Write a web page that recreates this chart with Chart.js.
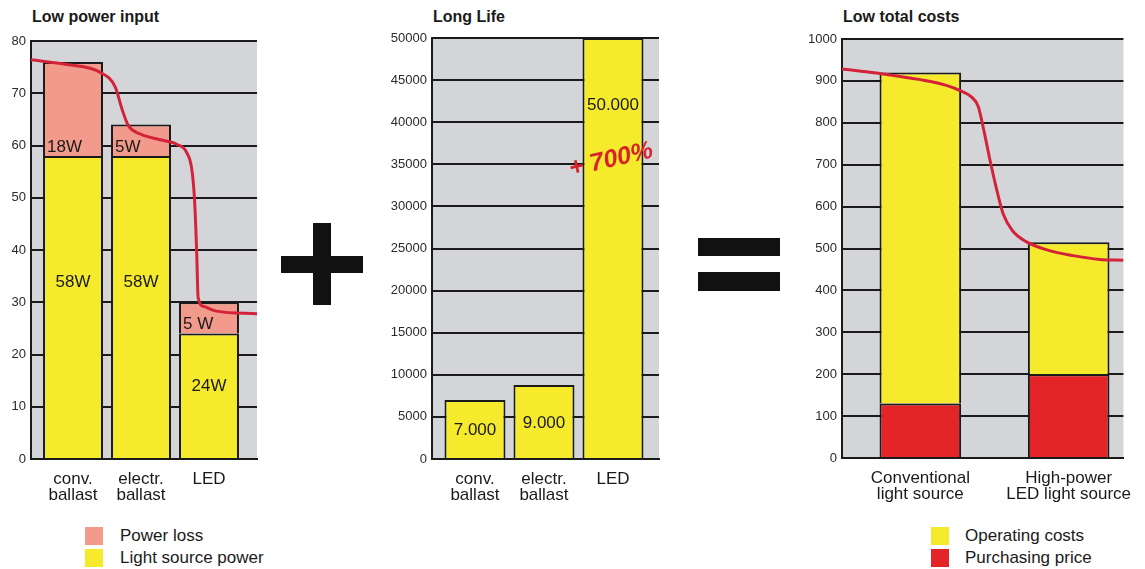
<!DOCTYPE html>
<html>
<head>
<meta charset="utf-8">
<script src="https://cdn.jsdelivr.net/npm/chart.js@4.4.1/dist/chart.umd.min.js"></script>
<style>
  body { margin: 0; background: #fff; width: 1145px; height: 569px; overflow: hidden; position: relative;
         font-family: "Liberation Sans", Arial, sans-serif; color: #1a1a1a; }
  canvas { position: absolute; }
  .title { position: absolute; font-weight: bold; font-size: 16px; line-height: 18px; }
  .sign { position: absolute; background: #111; }
  .legend { position: absolute; font-size: 17px; line-height: 22px; }
  .legend div { position: relative; height: 22px; white-space: nowrap; }
  .legend span { position: absolute; left: 0; top: 2px; width: 18px; height: 18px; }
</style>
</head>
<body>
<div class="title" style="left:32px;top:8px">Low power input</div>
<div class="title" style="left:433px;top:8px">Long Life</div>
<div class="title" style="left:843px;top:8px">Low total costs</div>

<canvas id="powerChart" width="262" height="485" style="left:0;top:25px"></canvas>
<canvas id="lifeChart" width="280" height="485" style="left:382px;top:25px"></canvas>
<canvas id="costChart" width="348" height="484" style="left:797px;top:25px"></canvas>

<!-- plus and equals signs -->
<div class="sign" style="left:281px;top:256px;width:82px;height:17px"></div>
<div class="sign" style="left:313px;top:223px;width:18px;height:82px"></div>
<div class="sign" style="left:698px;top:238px;width:82px;height:18px"></div>
<div class="sign" style="left:698px;top:272px;width:82px;height:19px"></div>

<div class="legend" style="left:85px;top:525px">
  <div style="padding-left:35px"><span style="background:#f29b8c"></span>Power loss</div>
  <div style="padding-left:35px"><span style="background:#f5ea2c"></span>Light source power</div>
</div>
<div class="legend" style="left:931px;top:525px">
  <div style="padding-left:34px"><span style="background:#f5ea2c"></span>Operating costs</div>
  <div style="padding-left:34px"><span style="background:#e42528"></span>Purchasing price</div>
</div>

<script>
const FONT = '"Liberation Sans", Arial, sans-serif';
const YELLOW = "#f5ea2c";
const SALMON = "#f29b8c";
const RED = "#e42528";
const CURVE = "#d42339";

// === LOW POWER INPUT ===
const powerCats = [["conv.", "ballast"], ["electr.", "ballast"], ["LED"]];
const lightSourcePower = [58, 58, 24];
const powerLoss = [18, 6, 6];
const powerSourceLabels = ["58W", "58W", "24W"];
const powerLossLabels = ["18W", "5W", "5 W"];
const powerCurveX = [-0.62, -0.09, 0.4, 0.62, 0.72, 0.81, 0.99, 1.28, 1.53, 1.67, 1.75, 1.79, 1.82, 1.84, 1.92, 2.11, 2.71];
const powerCurveY = [76.4, 75.5, 74.0, 71.2, 67.0, 63.9, 62.2, 61.1, 60.2, 58.7, 55.2, 49.0, 39.2, 30.9, 29.2, 28.3, 27.8];

// === LONG LIFE ===
const lifeCats = [["conv.", "ballast"], ["electr.", "ballast"], ["LED"]];
const lifeHours = [7000, 8800, 50000];
const lifeLabels = ["7.000", "9.000", "50.000"];
const lifeGain = "+ 700%";

// === LOW TOTAL COSTS ===
const costCats = [["Conventional", "light source"], ["High-power", "LED light source"]];
const purchasingPrice = [130, 200];
const operatingCosts = [790, 315];
const costCurveX = [-0.54, -0.28, 0.0, 0.17, 0.28, 0.34, 0.39, 0.43, 0.47, 0.52, 0.56, 0.62, 0.71, 0.86, 1.03, 1.21, 1.37];
const costCurveY = [929, 918, 903, 890, 875, 863, 839, 779, 710, 633, 581, 543, 517, 496, 483, 474, 472];

const toPoints = (xs, ys) => xs.map((x, i) => ({ x: x, y: ys[i] }));

const grayBg = {
  id: "grayBg",
  beforeDraw(chart) {
    const { ctx, chartArea: a } = chart;
    ctx.save();
    ctx.fillStyle = "#d3d5d8";
    ctx.fillRect(a.left, a.top, a.right - a.left, a.bottom - a.top);
    ctx.restore();
  }
};

function barSet(values, color) {
  return { data: toPoints(values.map((_, i) => i), values), backgroundColor: color, order: 1 };
}

function curveSet(xs, ys) {
  return {
    type: "line", data: toPoints(xs, ys), borderColor: CURVE, borderWidth: 3,
    pointRadius: 0, cubicInterpolationMode: "monotone", order: 0
  };
}

function buildChart(id, o) {
  return new Chart(document.getElementById(id), {
    type: "bar",
    data: { datasets: o.datasets },
    options: {
      responsive: false,
      animation: false,
      layout: { padding: o.pad },
      plugins: { legend: { display: false }, tooltip: { enabled: false } },
      datasets: {
        bar: { categoryPercentage: 1, barPercentage: o.barPct, borderColor: "#1a1a1a", borderWidth: 2, borderSkipped: "start" }
      },
      scales: {
        x: {
          type: "linear", stacked: true, offset: false, min: o.xMin, max: o.xMax,
          afterBuildTicks: (ax) => { ax.ticks = o.cats.map((_, i) => ({ value: i })); },
          afterFit: (ax) => { ax.height = o.xHeight; },
          grid: { display: false, drawTicks: false, offset: false },
          border: { display: true, color: "#1a1a1a", width: 2 },
          ticks: {
            callback: (v) => o.cats[v], color: "#1a1a1a", padding: 12,
            font: { size: 17, family: FONT, lineHeight: 0.95 }, maxRotation: 0, autoSkip: false
          }
        },
        y: {
          stacked: true, min: 0, max: o.yMax,
          afterFit: (ax) => { ax.width = o.yWidth; },
          grid: { color: "#1a1a1a", lineWidth: 2, drawTicks: false },
          border: { display: true, color: "#1a1a1a", width: 2 },
          ticks: {
            stepSize: o.yStep, color: "#2a2a2a", padding: 5, font: { size: 13, family: FONT },
            callback: (v) => String(v)
          }
        }
      }
    },
    plugins: [grayBg].concat(o.extra ? [o.extra] : [])
  });
}

// labels written into the bars
const powerText = {
  id: "powerText",
  afterDatasetsDraw(chart) {
    const ctx = chart.ctx;
    ctx.save();
    ctx.font = "17px " + FONT;
    ctx.fillStyle = "#1a1a1a";
    ctx.textBaseline = "middle";
    chart.getDatasetMeta(0).data.forEach((b, i) => {
      ctx.textAlign = "center";
      ctx.fillText(powerSourceLabels[i], b.x, b.y + (b.base - b.y) * 0.42);
    });
    chart.getDatasetMeta(1).data.forEach((b, i) => {
      ctx.textAlign = "left";
      ctx.fillText(powerLossLabels[i], b.x - b.width / 2 + 4, b.base - 9);
    });
    ctx.restore();
  }
};

const lifeText = {
  id: "lifeText",
  afterDatasetsDraw(chart) {
    const ctx = chart.ctx;
    const bars = chart.getDatasetMeta(0).data;
    ctx.save();
    ctx.font = "17px " + FONT;
    ctx.fillStyle = "#1a1a1a";
    ctx.textBaseline = "middle";
    ctx.textAlign = "center";
    bars.forEach((b, i) => {
      ctx.fillText(lifeLabels[i], b.x, Math.min(b.y + (b.base - b.y) * 0.53, b.y + 67));
    });
    const led = bars[bars.length - 1];
    ctx.translate(led.x - 2, led.y + 122);
    ctx.rotate(-13 * Math.PI / 180);
    ctx.font = "italic bold 25px " + FONT;
    ctx.fillStyle = "#d8232a";
    ctx.fillText(lifeGain, 0, 0);
    ctx.restore();
  }
};

buildChart("powerChart", {
  cats: powerCats, xMin: -0.618, xMax: 2.706, yMax: 80, yStep: 10, barPct: 0.882,
  yWidth: 31, xHeight: 51, pad: { top: 16, right: 5, left: 0, bottom: 0 },
  datasets: [barSet(lightSourcePower, YELLOW), barSet(powerLoss, SALMON), curveSet(powerCurveX, powerCurveY)],
  extra: powerText
});

buildChart("lifeChart", {
  cats: lifeCats, xMin: -0.623, xMax: 2.667, yMax: 50000, yStep: 5000, barPct: 0.884,
  yWidth: 50, xHeight: 51, pad: { top: 13, right: 3, left: 0, bottom: 0 },
  datasets: [barSet(lifeHours, YELLOW)],
  extra: lifeText
});

buildChart("costChart", {
  cats: costCats, xMin: -0.528, xMax: 1.369, yMax: 1000, yStep: 100, barPct: 0.55,
  yWidth: 45, xHeight: 51, pad: { top: 14, right: 10, left: 0, bottom: 0 },
  datasets: [barSet(purchasingPrice, RED), barSet(operatingCosts, YELLOW), curveSet(costCurveX, costCurveY)]
});
</script>
</body>
</html>
